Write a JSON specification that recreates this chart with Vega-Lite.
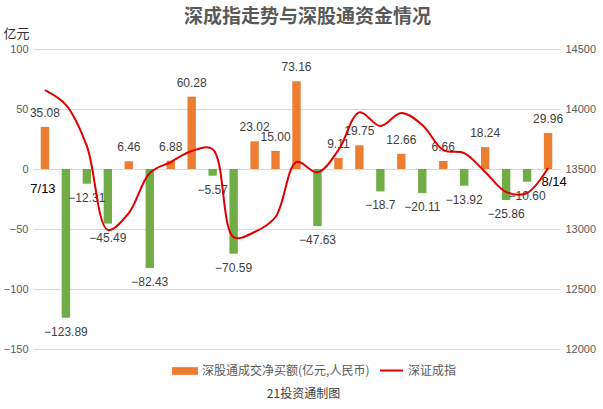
{
  "$schema": "https://vega.github.io/schema/vega-lite/v6.json",
  "width": 527,
  "height": 300,
  "autosize": {"type": "none"},
  "padding": {"left": 33, "top": 49, "right": 43, "bottom": 60},
  "background": "white",
  "config": {"font": "Noto Sans CJK SC", "view": {"stroke": null}},
  "title": {"text": "深成指走势与深股通资金情况", "fontSize": 19, "fontWeight": "bold", "color": "#595959", "anchor": "middle", "offset": 0, "dy": 0, "dx": 11},
  "data": {"values": [
    {"date": "7/13", "flow": 35.08, "label": "35.08", "index": 14158},
    {"date": "7/14", "flow": -123.89, "label": "−123.89", "index": 14035},
    {"date": "7/15", "flow": -12.31, "label": "−12.31", "index": 13690},
    {"date": "7/16", "flow": -45.49, "label": "−45.49", "index": 12992},
    {"date": "7/17", "flow": 6.46, "label": "6.46", "index": 13133},
    {"date": "7/20", "flow": -82.43, "label": "−82.43", "index": 13467},
    {"date": "7/21", "flow": 6.88, "label": "6.88", "index": 13558},
    {"date": "7/22", "flow": 60.28, "label": "60.28", "index": 13650},
    {"date": "7/23", "flow": -5.57, "label": "−5.57", "index": 13665},
    {"date": "7/24", "flow": -70.59, "label": "−70.59", "index": 12933},
    {"date": "7/27", "flow": 23.02, "label": "23.02", "index": 12975},
    {"date": "7/28", "flow": 15.0, "label": "15.00", "index": 13100},
    {"date": "7/29", "flow": 73.16, "label": "73.16", "index": 13558},
    {"date": "7/30", "flow": -47.63, "label": "−47.63", "index": 13472},
    {"date": "7/31", "flow": 9.11, "label": "9.11", "index": 13658},
    {"date": "8/3", "flow": 19.75, "label": "19.75", "index": 13972},
    {"date": "8/4", "flow": -18.7, "label": "−18.7", "index": 13858},
    {"date": "8/5", "flow": 12.66, "label": "12.66", "index": 13967},
    {"date": "8/6", "flow": -20.11, "label": "−20.11", "index": 13867},
    {"date": "8/7", "flow": 6.66, "label": "6.66", "index": 13658},
    {"date": "8/10", "flow": -13.92, "label": "−13.92", "index": 13633},
    {"date": "8/11", "flow": 18.24, "label": "18.24", "index": 13475},
    {"date": "8/12", "flow": -25.86, "label": "−25.86", "index": 13308},
    {"date": "8/13", "flow": -10.6, "label": "−10.60", "index": 13300},
    {"date": "8/14", "flow": 29.96, "label": "29.96", "index": 13508}
  ]},
  "encoding": {
    "x": {
      "field": "date", "type": "ordinal", "sort": null,
      "scale": {"paddingInner": 0.6, "paddingOuter": 0.37},
      "axis": {"title": "21投资通制图", "labels": false, "ticks": false, "domain": false, "grid": false,
        "titleFontSize": 12, "titleFontWeight": "normal", "titleColor": "#404040",
        "titleY": 44, "titleX": 270, "titleBaseline": "middle", "titleAlign": "center"}
    }
  },
  "layer": [
    {
      "encoding": {
        "y": {"field": "flow", "type": "quantitative",
          "scale": {"domain": [-150, 100], "nice": false, "zero": false},
          "axis": {"title": "亿元", "titleAngle": 0, "titleX": -30, "titleY": -16, "titleAlign": "left", "titleBaseline": "middle",
            "titleFontSize": 13, "titleFontWeight": "normal", "titleColor": "#333333",
            "values": [-150, -100, -50, 0, 50, 100], "grid": true, "gridColor": "#D9D9D9", "gridWidth": 1,
            "domain": false, "ticks": false, "labelColor": "#595959", "labelFontSize": 11, "labelPadding": 5, "labelFont": "Liberation Sans"}}
      },
      "layer": [
        {
          "mark": {"type": "bar"},
          "encoding": {
            "color": {
              "datum": "深股通成交净买额(亿元,人民币)",
              "condition": {"test": "datum.flow < 0", "value": "#70AD47"},
              "scale": {"range": ["#ED7D31"]},
              "legend": {"orient": "none", "legendX": 139, "legendY": 309, "title": null,
                "symbolType": "M-1,-0.3H1V0.3H-1Z", "symbolSize": 676, "symbolStrokeWidth": 0,
                "labelFontSize": 12, "labelColor": "#595959", "labelOffset": 4, "labelLimit": 300, "padding": 0}
            }
          }
        },
        {
          "transform": [{"filter": "datum.flow >= 0"}],
          "mark": {"type": "text", "dy": -14, "baseline": "middle", "fontSize": 12, "font": "Liberation Sans", "color": "#404040"},
          "encoding": {"text": {"field": "label"}}
        },
        {
          "transform": [{"filter": "datum.flow < 0"}],
          "mark": {"type": "text", "dy": 14, "baseline": "middle", "fontSize": 12, "font": "Liberation Sans", "color": "#404040"},
          "encoding": {"text": {"field": "label"}}
        }
      ]
    },
    {
      "encoding": {
        "y": {"field": "index", "type": "quantitative",
          "scale": {"domain": [12000, 14500], "nice": false, "zero": false},
          "axis": {"orient": "right", "title": null, "values": [12000, 12500, 13000, 13500, 14000, 14500], "format": "d", "grid": false,
            "domain": false, "ticks": false, "labelColor": "#595959", "labelFontSize": 11, "labelPadding": 5, "labelFont": "Liberation Sans"}}
      },
      "layer": [
        {
          "mark": {"type": "line", "interpolate": "catmull-rom", "strokeWidth": 2},
          "encoding": {
            "stroke": {
              "datum": "深证成指",
              "scale": {"range": ["#E00000"]},
              "legend": {"orient": "none", "legendX": 346, "legendY": 309, "title": null,
                "symbolType": "stroke", "symbolSize": 529, "symbolStrokeWidth": 2,
                "labelFontSize": 12, "labelColor": "#595959", "labelOffset": 4, "padding": 0}
            }
          }
        },
        {
          "transform": [{"filter": "datum.date == '7/13'"}],
          "mark": {"type": "text", "dy": 99, "dx": -2, "baseline": "middle", "fontSize": 13, "font": "Liberation Sans", "color": "#000000"},
          "encoding": {"text": {"field": "date"}}
        },
        {
          "transform": [{"filter": "datum.date == '8/14'"}],
          "mark": {"type": "text", "dy": 14, "dx": 6, "baseline": "middle", "fontSize": 13, "font": "Liberation Sans", "color": "#000000"},
          "encoding": {"text": {"field": "date"}}
        }
      ]
    }
  ],
  "resolve": {"scale": {"y": "independent"}}
}
